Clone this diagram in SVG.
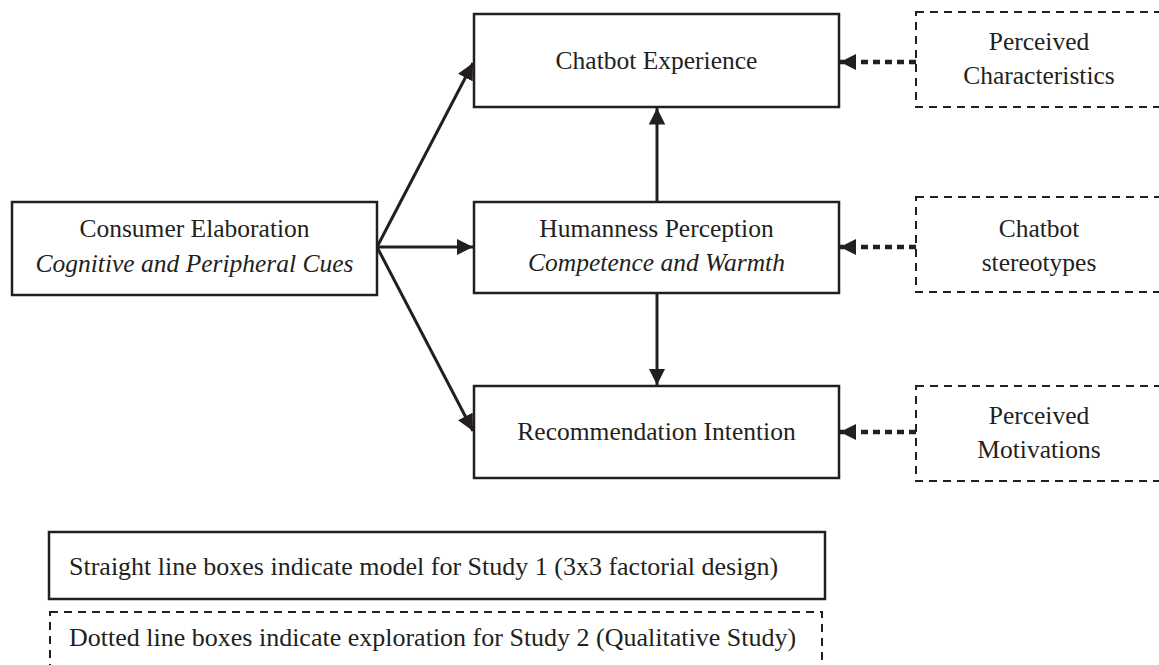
<svg xmlns="http://www.w3.org/2000/svg" width="1159" height="665" viewBox="0 0 1159 665">
<defs>
<style>
.box{fill:#fff;stroke:#231f20;stroke-width:2.5}
.dbox{fill:#fff;stroke:#231f20;stroke-width:2;stroke-dasharray:8 6}
.t{font-family:"Liberation Serif","Times New Roman",serif;font-size:25.5px;fill:#231f20;text-anchor:middle}
.tl{font-family:"Liberation Serif","Times New Roman",serif;font-size:26px;fill:#231f20}
.i{font-style:italic}
.c{stroke:#231f20;stroke-width:3;fill:none}
.d{stroke:#231f20;stroke-width:4.5;fill:none;stroke-dasharray:7 5}
</style>
<marker id="ah" viewBox="0 0 10 10" refX="10" refY="5" markerWidth="5.5" markerHeight="5.5" orient="auto" markerUnits="strokeWidth">
<path d="M0,0 L10,5 L0,10 z" fill="#231f20"/>
</marker>
<marker id="ahd" viewBox="0 0 10 10" refX="10" refY="5" markerWidth="3.6" markerHeight="3.6" orient="auto" markerUnits="strokeWidth">
<path d="M0,0 L10,5 L0,10 z" fill="#231f20"/>
</marker>
</defs>
<rect width="1159" height="665" fill="#fff"/>
<g id="connectors">
<line class="c" x1="377" y1="247" x2="473" y2="63" marker-end="url(#ah)"/>
<line class="c" x1="377" y1="247" x2="473" y2="247" marker-end="url(#ah)"/>
<line class="c" x1="377" y1="247" x2="473" y2="431" marker-end="url(#ah)"/>
<line class="c" x1="657" y1="202" x2="657" y2="108" marker-end="url(#ah)"/>
<line class="c" x1="657" y1="293" x2="657" y2="385" marker-end="url(#ah)"/>
<line class="d" x1="916" y1="62" x2="840" y2="62" marker-end="url(#ahd)"/>
<line class="d" x1="916" y1="247" x2="840" y2="247" marker-end="url(#ahd)"/>
<line class="d" x1="916" y1="432" x2="840" y2="432" marker-end="url(#ahd)"/>
</g>
<g id="consumer">
<rect class="box" x="12" y="202" width="365" height="93"/>
<text class="t" x="194.5" y="237">Consumer Elaboration</text>
<text class="t i" x="194.5" y="272">Cognitive and Peripheral Cues</text>
</g>
<g id="experience">
<rect class="box" x="474" y="14" width="365" height="93"/>
<text class="t" x="656.5" y="69">Chatbot Experience</text>
</g>
<g id="humanness">
<rect class="box" x="474" y="202" width="365" height="91"/>
<text class="t" x="656.5" y="237">Humanness Perception</text>
<text class="t i" x="656.5" y="271">Competence and Warmth</text>
</g>
<g id="recommendation">
<rect class="box" x="474" y="386" width="365" height="92"/>
<text class="t" x="656.5" y="440">Recommendation Intention</text>
</g>
<g id="characteristics">
<rect class="dbox" x="916" y="12" width="250" height="95"/>
<text class="t" x="1039" y="50">Perceived</text>
<text class="t" x="1039" y="84">Characteristics</text>
</g>
<g id="stereotypes">
<rect class="dbox" x="916" y="197" width="250" height="95"/>
<text class="t" x="1039" y="237">Chatbot</text>
<text class="t" x="1039" y="271">stereotypes</text>
</g>
<g id="motivations">
<rect class="dbox" x="916" y="386" width="250" height="95"/>
<text class="t" x="1039" y="424">Perceived</text>
<text class="t" x="1039" y="458">Motivations</text>
</g>
<g id="legend-solid">
<rect class="box" x="49" y="532" width="776" height="67"/>
<text class="tl" x="69" y="575">Straight line boxes indicate model for Study 1 (3x3 factorial design)</text>
</g>
<g id="legend-dotted">
<rect class="dbox" x="50" y="612" width="772" height="70"/>
<text class="tl" x="69" y="646">Dotted line boxes indicate exploration for Study 2 (Qualitative Study)</text>
</g>
</svg>
